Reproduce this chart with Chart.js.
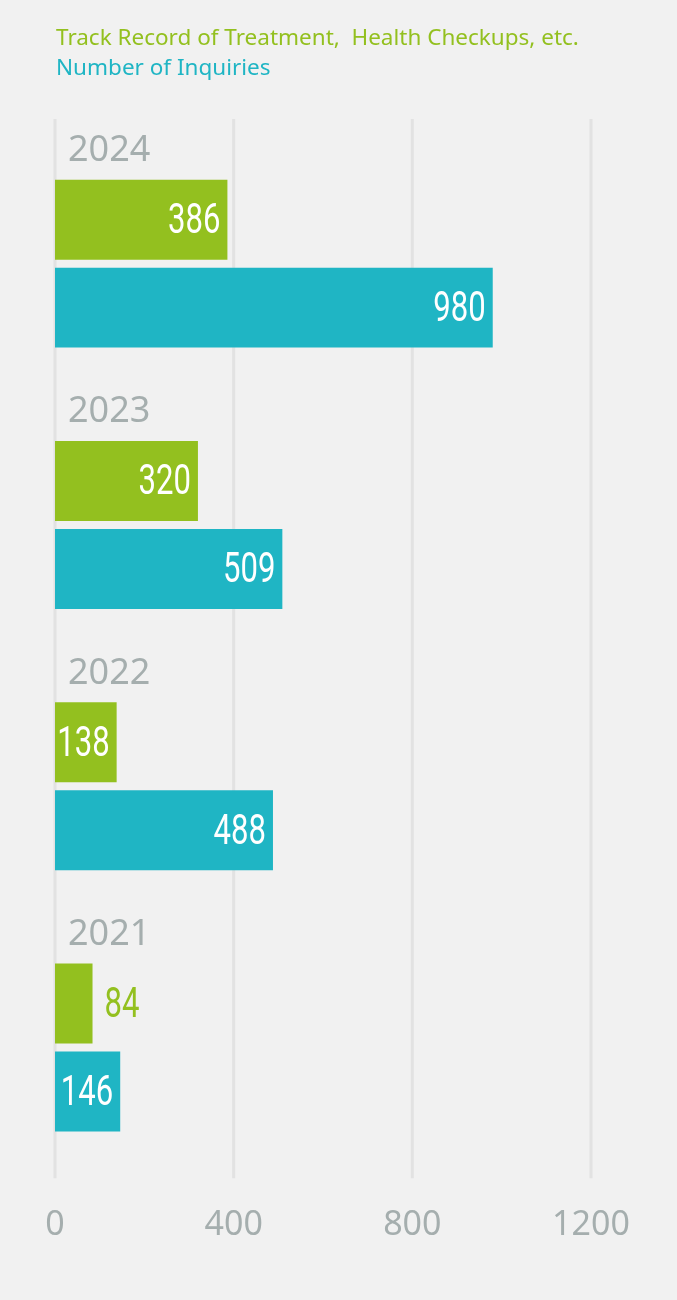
<!DOCTYPE html>
<html>
<head>
<meta charset="utf-8">
<script src="https://cdn.jsdelivr.net/npm/chart.js@4.4.1/dist/chart.umd.min.js"></script>
<style>
  html, body { margin: 0; padding: 0; background: #f1f1f1; }
  #wrap { position: relative; width: 677px; height: 1300px; background: #f1f1f1; }
  #resultsChart { position: absolute; left: 0; top: 0; }
  .legend { position: absolute; left: 56px; font-family: 'Noto Sans', sans-serif; font-size: 22.5px; white-space: pre; line-height: 1; }
  #legendTreatment { top: 26px; color: #93c01f; }
  #legendInquiries { top: 56px; color: #1fb5c4; }
</style>
</head>
<body>
<div id="wrap">
  <canvas id="resultsChart" width="677" height="1300"></canvas>
  <div class="legend" id="legendTreatment">Track Record of Treatment,  Health Checkups, etc.</div>
  <div class="legend" id="legendInquiries">Number of Inquiries</div>
</div>
<script>
'use strict';

const years = ['2024', '2023', '2022', '2021'];
const treatment = [386, 320, 138, 84];
const inquiries = [980, 509, 488, 146];
const xTicks = [0, 400, 800, 1200];

const green = '#93c01f';
const teal = '#1fb5c4';
const grey = '#a5aeae';
// no condensed face installed, so Roboto gets squeezed sideways
const numFont = '42px Roboto, "Liberation Sans", sans-serif';
const squeeze = 0.74;

// vertical grid lines, a bit taller than the chart area
const gridLines = {
  id: 'gridLines',
  beforeDatasetsDraw(chart) {
    const ctx = chart.ctx;
    const x = chart.scales.x;
    const area = chart.chartArea;
    ctx.save();
    ctx.strokeStyle = '#e2e2e2';
    ctx.lineWidth = 3;
    xTicks.forEach(function (v) {
      const px = x.getPixelForValue(v);
      ctx.beginPath();
      ctx.moveTo(px, area.top - 14);
      ctx.lineTo(px, area.bottom);
      ctx.stroke();
    });
    ctx.restore();
  }
};

// year above each group + numbers on the bars
const barLabels = {
  id: 'barLabels',
  afterDatasetsDraw(chart) {
    const ctx = chart.ctx;
    const area = chart.chartArea;
    ctx.save();

    const first = chart.getDatasetMeta(0).data;
    ctx.font = '36px "Noto Sans", sans-serif';
    ctx.fillStyle = grey;
    ctx.textAlign = 'left';
    ctx.textBaseline = 'middle';
    first.forEach(function (bar, i) {
      const top = bar.y - bar.height / 2;
      ctx.fillText(years[i], area.left + 13, top - 29);
    });

    ctx.font = numFont;
    chart.data.datasets.forEach(function (ds, d) {
      chart.getDatasetMeta(d).data.forEach(function (bar, i) {
        const label = String(ds.data[i]);
        const w = ctx.measureText(label).width * squeeze;
        const barW = bar.x - bar.base;
        let tx, color;
        if (w + 9 <= barW) {
          color = '#ffffff';
          tx = bar.x - 7 - w;
        } else {
          color = ds.backgroundColor;
          tx = bar.x + 12;
        }
        ctx.save();
        ctx.fillStyle = color;
        ctx.textAlign = 'left';
        ctx.translate(tx, bar.y + 3);
        ctx.scale(squeeze, 1);
        ctx.fillText(label, 0, 0);
        ctx.restore();
      });
    });
    ctx.restore();
  }
};

const chartGraphics = {
  type: 'bar',
  data: {
    labels: years,
    datasets: [{
      label: 'Track Record of Treatment, Health Checkups, etc.',
      data: treatment,
      backgroundColor: green,
      categoryPercentage: 0.673,
      barPercentage: 0.909
    }, {
      label: 'Number of Inquiries',
      data: inquiries,
      backgroundColor: teal,
      categoryPercentage: 0.673,
      barPercentage: 0.909
    }]
  },
  options: {
    indexAxis: 'y',
    responsive: false,
    animation: false,
    layout: {
      padding: { top: 133, left: 55, right: 86, bottom: 27 }
    },
    plugins: {
      legend: { display: false },
      tooltip: { enabled: false }
    },
    scales: {
      x: {
        min: 0,
        max: 1200,
        afterBuildTicks: function (scale) {
          scale.ticks = xTicks.map(function (v) { return { value: v }; });
        },
        grid: { display: false, drawTicks: false },
        border: { display: false },
        ticks: {
          color: grey,
          padding: 27,
          maxRotation: 0,
          font: { family: 'Noto Sans', size: 34 },
          callback: function (value) { return String(value); }
        }
      },
      y: {
        display: false,
        grid: { display: false }
      }
    }
  },
  plugins: [gridLines, barLabels]
};

let canvasChart = document.getElementById('resultsChart').getContext('2d');
const myChart = new Chart(canvasChart, chartGraphics);
</script>
</body>
</html>
